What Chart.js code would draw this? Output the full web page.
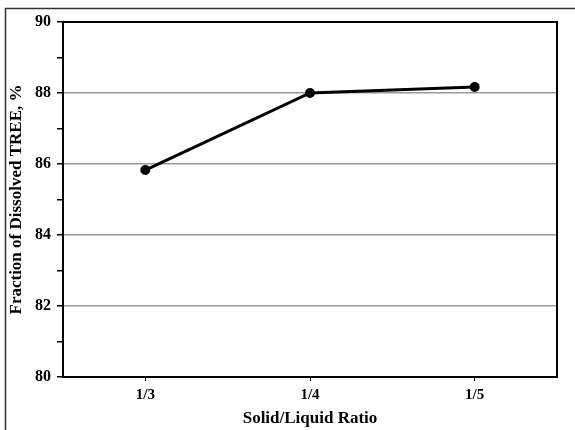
<!DOCTYPE html>
<html>
<head>
<meta charset="utf-8">
<script src="https://cdn.jsdelivr.net/npm/chart.js@4"></script>
<style>
  html, body { margin: 0; padding: 0; background: #fff; }
  #wrap { width: 575px; height: 430px; position: relative; }
</style>
</head>
<body>
<div id="wrap"><canvas id="chart"></canvas></div>
<script>
// data
const ratios = ["1/3", "1/4", "1/5"];
const dissolved = [85.83, 88.0, 88.17];
const yMin = 80, yMax = 90;

const serif = "'Liberation Serif', 'Times New Roman', serif";

// frame round the plot + the cropped border of the figure
const framePlugin = {
    id: "frame",
    afterDraw(chart) {
        const ctx = chart.ctx, a = chart.chartArea;
        ctx.save();
        ctx.strokeStyle = "#333";
        ctx.lineWidth = 1.5;
        ctx.beginPath();
        ctx.moveTo(5.5, 440);
        ctx.lineTo(5.5, 8.5);
        ctx.lineTo(580, 8.5);
        ctx.stroke();
        ctx.strokeStyle = "#000";
        ctx.lineWidth = 2;
        ctx.strokeRect(a.left, a.top, a.right - a.left, a.bottom - a.top);
        ctx.restore();
    }
};

new Chart(document.getElementById("chart"), {
    type: "line",
    data: {
        labels: ratios,
        datasets: [{
            data: dissolved,
            borderColor: "#000",
            backgroundColor: "#000",
            borderWidth: 3,
            pointRadius: 3.5,
            pointHoverRadius: 3.5,
            tension: 0
        }]
    },
    options: {
        responsive: true,
        maintainAspectRatio: false,
        animation: false,
        layout: { padding: { left: 6, top: 22, right: 18, bottom: 0 } },
        plugins: { legend: { display: false }, tooltip: { enabled: false } },
        scales: {
            x: {
                offset: true,
                afterFit: s => { s.height = 53; },
                grid: {
                    offset: false,
                    color: "rgba(0,0,0,0)",
                    tickColor: "#000",
                    tickLength: 4,
                    drawOnChartArea: false
                },
                border: { display: true, color: "#000", width: 2 },
                ticks: {
                    color: "#000",
                    padding: 5,
                    font: { family: serif, size: 15, weight: "bold" }
                },
                title: {
                    display: true,
                    text: "Solid/Liquid Ratio",
                    color: "#000",
                    padding: { top: 0, bottom: 1 },
                    font: { family: serif, size: 17, weight: "bold" }
                }
            },
            y: {
                min: yMin,
                max: yMax,
                afterFit: s => { s.width = 57; },
                ticks: {
                    stepSize: 1,
                    color: "#000",
                    padding: 6,
                    font: { family: serif, size: 16, weight: "bold" },
                    callback: v => (v % 2 === 0 ? v : "")
                },
                grid: {
                    color: c => (c.tick && c.tick.value % 2 === 0 ? "#999" : "rgba(0,0,0,0)"),
                    tickColor: "#000",
                    tickLength: 6,
                    lineWidth: 1.5
                },
                border: { display: true, color: "#000", width: 2 },
                title: {
                    display: true,
                    text: "Fraction of Dissolved TREE, %",
                    color: "#000",
                    padding: { top: 0, bottom: 2 },
                    font: { family: serif, size: 17, weight: "bold" }
                }
            }
        }
    },
    plugins: [framePlugin]
});
</script>
</body>
</html>
